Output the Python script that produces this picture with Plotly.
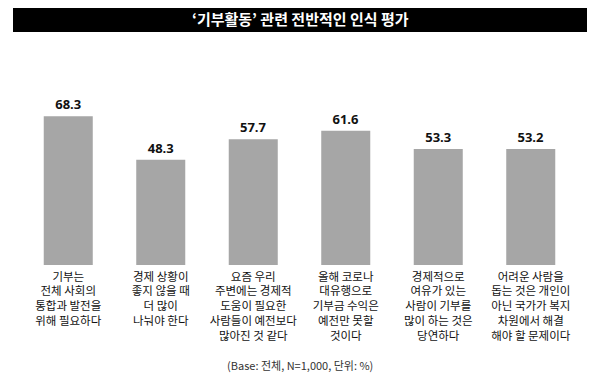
import plotly.graph_objects as go

categories = [
    "기부는<br>전체 사회의<br>통합과 발전을<br>위해 필요하다",
    "경제 상황이<br>좋지 않을 때<br>더 많이<br>나눠야 한다",
    "요즘 우리<br>주변에는 경제적<br>도움이 필요한<br>사람들이 예전보다<br>많아진 것 같다",
    "올해 코로나<br>대유행으로<br>기부금 수익은<br>예전만 못할<br>것이다",
    "경제적으로<br>여유가 있는<br>사람이 기부를<br>많이 하는 것은<br>당연하다",
    "어려운 사람을<br>돕는 것은 개인이<br>아닌 국가가 복지<br>차원에서 해결<br>해야 할 문제이다",
]
values = [68.3, 48.3, 57.7, 61.6, 53.3, 53.2]
title_text = "‘기부활동’ 관련 전반적인 인식 평가"
note_text = "(Base: 전체, N=1,000, 단위: %)"

OFF = 8  # default page body margin
W, H = 600 - OFF, 384 - OFF
# plot area in page coordinates: x 22..577, y 45..265
px0, px1, py0, py1 = 22, 577, 45, 265
ml, mr = px0 - OFF, W - (px1 - OFF)
mt, mb = py0 - OFF, H - (py1 - OFF)

def fx(x):
    return (x - px0) / (px1 - px0)

def fy(y):
    return (py1 - y) / (py1 - py0)

fig = go.Figure(go.Bar(
    x=list(range(len(categories))),
    y=values,
    marker=dict(color="#a6a6a6", line=dict(width=0)),
    width=0.53,
    text=[f"{v:.1f}" for v in values],
    textposition="outside",
    cliponaxis=False,
    textfont=dict(family="Open Sans", size=13, color="#111111", weight="bold"),
))

fig.update_layout(
    width=W, height=H,
    margin=dict(l=ml, r=mr, t=mt, b=mb, autoexpand=False),
    paper_bgcolor="white", plot_bgcolor="white",
    showlegend=False,
    font=dict(family="Noto Sans CJK KR"),
    xaxis=dict(
        tickmode="array", tickvals=list(range(len(categories))), ticktext=categories,
        range=[-0.5, len(categories) - 0.5],
        showgrid=False, zeroline=False, showline=False, ticks="",
        tickfont=dict(family="Noto Sans CJK KR", size=11.5, color="#111111"),
        tickangle=0, automargin=False, ticklabelstandoff=3,
    ),
    yaxis=dict(range=[0, 101], visible=False, automargin=False),
)

# title bar
fig.add_shape(type="rect", xref="paper", yref="paper",
              x0=fx(13), x1=fx(587), y0=fy(32), y1=fy(5),
              fillcolor="black", line=dict(width=0), layer="above")
fig.add_annotation(text=f"<b>{title_text}</b>", xref="paper", yref="paper",
                   x=fx(300), y=fy(18.5),
                   showarrow=False, xanchor="center", yanchor="middle",
                   font=dict(family="Noto Sans CJK KR", size=15, color="white"))
fig.add_annotation(text=note_text, xref="paper", yref="paper",
                   x=fx(300), y=fy(365),
                   showarrow=False, xanchor="center", yanchor="middle",
                   font=dict(family="Noto Sans CJK KR", size=11, color="#333333"))

fig.write_html("out.html")
